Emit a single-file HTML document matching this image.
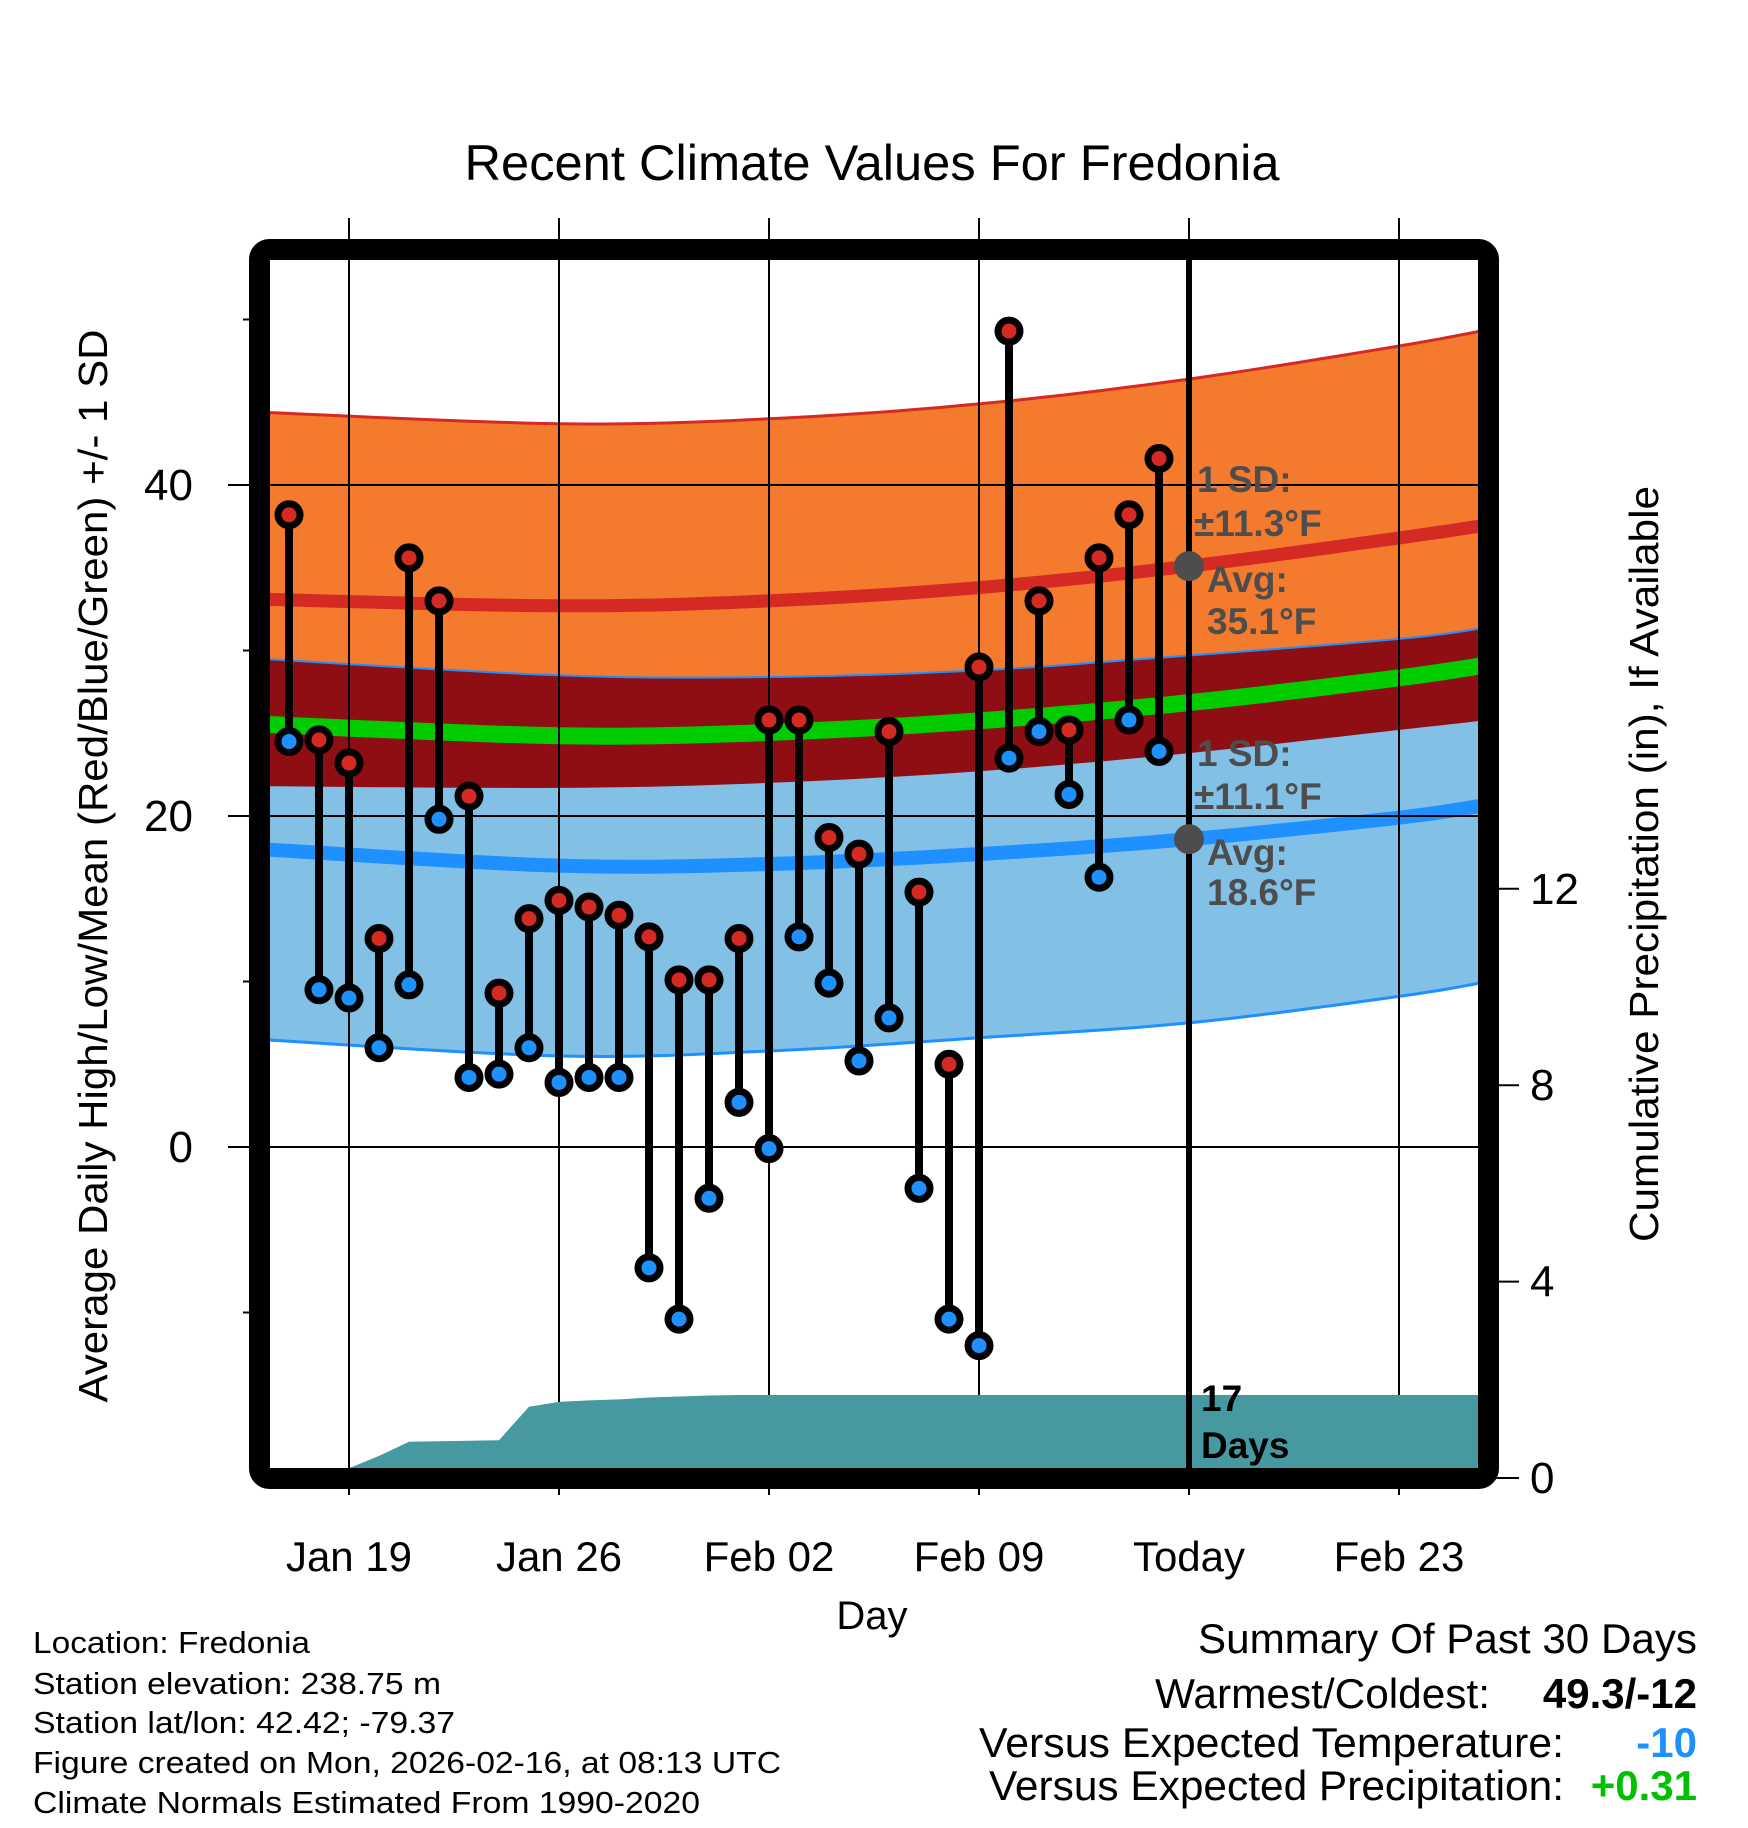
<!DOCTYPE html>
<html><head><meta charset="utf-8"><style>
html,body{margin:0;padding:0;background:#fff;}
svg{display:block;font-family:"Liberation Sans",sans-serif;}
</style></head><body>
<svg id="chart" width="1748" height="1828" viewBox="0 0 1748 1828" xmlns="http://www.w3.org/2000/svg">
<defs><clipPath id="plotclip"><rect x="270" y="260" width="1208" height="1208"/></clipPath></defs>
<text x="872" y="180" font-size="50" text-anchor="middle" textLength="815" lengthAdjust="spacingAndGlyphs">Recent Climate Values For Fredonia</text>
<g id="bands" clip-path="url(#plotclip)"></g>
<g id="grid"></g>
<g id="precip" clip-path="url(#plotclip)"></g>
<g id="marks"></g>
<g id="annot"></g>
<rect x="259.5" y="249.5" width="1229" height="1229" rx="10" fill="none" stroke="#000" stroke-width="21"/>
<g id="axes"></g>
<text transform="translate(107,866) rotate(-90)" font-size="41" text-anchor="middle" textLength="1073" lengthAdjust="spacingAndGlyphs">Average Daily High/Low/Mean (Red/Blue/Green) +/- 1 SD</text>
<text transform="translate(1658,864) rotate(-90)" font-size="41" text-anchor="middle" textLength="756" lengthAdjust="spacingAndGlyphs">Cumulative Precipitation (in), If Available</text>
<text x="872" y="1629" font-size="40" text-anchor="middle">Day</text>
<g font-size="31">
<text x="33" y="1653" textLength="277" lengthAdjust="spacingAndGlyphs">Location: Fredonia</text>
<text x="33" y="1694" textLength="408" lengthAdjust="spacingAndGlyphs">Station elevation: 238.75 m</text>
<text x="33" y="1733" textLength="422" lengthAdjust="spacingAndGlyphs">Station lat/lon: 42.42; -79.37</text>
<text x="33" y="1773" textLength="748" lengthAdjust="spacingAndGlyphs">Figure created on Mon, 2026-02-16, at 08:13 UTC</text>
<text x="33" y="1813" textLength="667" lengthAdjust="spacingAndGlyphs">Climate Normals Estimated From 1990-2020</text>
</g>
<g font-size="42">
<text x="1198" y="1653" textLength="499" lengthAdjust="spacingAndGlyphs">Summary Of Past 30 Days</text>
<text x="1155" y="1708" textLength="335" lengthAdjust="spacingAndGlyphs">Warmest/Coldest:</text>
<text x="1697" y="1708" text-anchor="end" font-weight="bold">49.3/-12</text>
<text x="979" y="1757" textLength="585" lengthAdjust="spacingAndGlyphs">Versus Expected Temperature:</text>
<text x="1697" y="1757" text-anchor="end" font-weight="bold" fill="#1e90ff">-10</text>
<text x="989" y="1800" textLength="575" lengthAdjust="spacingAndGlyphs">Versus Expected Precipitation:</text>
<text x="1697" y="1800" text-anchor="end" font-weight="bold" fill="#00c000">+0.31</text>
</g>
</svg>
<script>
// day index: 0 = Jan 19
const dayIdx = [-2,-1,0,1,2,3,4,5,6,7,8,9,10,11,12,13,14,15,16,17,18,19,20,21,22,23,24,25,26,27];
const highs = [38.2,24.6,23.2,12.6,35.6,33.0,21.2,9.3,13.8,14.9,14.5,14.0,12.7,10.1,10.1,12.6,25.8,25.8,18.7,17.7,25.1,15.4,5.0,29.0,49.3,33.0,25.2,35.6,38.2,41.6];
const lows = [24.5,9.5,9.0,6.0,9.8,19.8,4.2,4.4,6.0,3.9,4.2,4.2,-7.3,-10.4,-3.1,2.7,-0.1,12.7,9.9,5.2,7.8,-2.5,-10.4,-12.0,23.5,25.1,21.3,16.3,25.8,23.9];
const precipDays = [-2,-1,0,1,2,3,4,5,6,7,8,9,10,11,12,13,39];
const precipCum = [0,0,0.2,0.45,0.74,0.75,0.76,0.77,1.45,1.55,1.58,1.6,1.64,1.66,1.68,1.69,1.69];
const normDays = [-3,7,14,21,28,35,38];
const hiMean = [33.1,32.7,33.0,33.8,35.1,36.8,37.6];
const hiSD = [11.3,11.0,11.0,11.1,11.3,11.6,11.8];
const loMean = [18.0,17.0,17.1,17.7,18.6,19.9,20.7];
const loSD = [11.5,11.5,11.3,11.1,11.1,10.8,10.7];
const xTickDays = [0,7,14,21,28,35];
const xTickLabels = ["Jan 19","Jan 26","Feb 02","Feb 09","Today","Feb 23"];
const yTicks = [-10,0,10,20,30,40,50];
const yLabels = [0,20,40];
const y2Ticks = [0,4,8,12];

const NS="http://www.w3.org/2000/svg";
const X = d => 349 + 30*d;
const Y = v => 1147 - 16.55*v;
const Y2 = p => 1478 - 49.1*p;
function mk(tag, attrs, parent){const e=document.createElementNS(NS,tag);for(const k in attrs)e.setAttribute(k,attrs[k]);parent.appendChild(e);return e;}
const bands=document.getElementById('bands'),grid=document.getElementById('grid'),precip=document.getElementById('precip'),marks=document.getElementById('marks'),annot=document.getElementById('annot'),axes=document.getElementById('axes');

const hiTop=hiMean.map((m,i)=>m+hiSD[i]), hiBot=hiMean.map((m,i)=>m-hiSD[i]);
const loTop=loMean.map((m,i)=>m+loSD[i]), loBot=loMean.map((m,i)=>m-loSD[i]);
const midMean=hiMean.map((m,i)=>(m+loMean[i])/2);
// smooth curve through nodes (Catmull-Rom sampled)
function curve(arr){const P=normDays.map((d,i)=>[X(d),Y(arr[i])]);const out=[];
for(let i=0;i<P.length-1;i++){const p0=P[Math.max(0,i-1)],p1=P[i],p2=P[i+1],p3=P[Math.min(P.length-1,i+2)];
for(let s=0;s<10;s++){const t=s/10,t2=t*t,t3=t2*t;
const f=(a,b,c,d)=>0.5*((2*b)+(-a+c)*t+(2*a-5*b+4*c-d)*t2+(-a+3*b-3*c+d)*t3);
out.push(f(p0[0],p1[0],p2[0],p3[0]).toFixed(1)+','+f(p0[1],p1[1],p2[1],p3[1]).toFixed(1));}}
const L=P[P.length-1];out.push(L[0].toFixed(1)+','+L[1].toFixed(1));return out;}
function band(a,b,fill,name){const p=curve(a).concat(curve(b).reverse()).join(' ');const e=mk('polygon',{points:p,fill:fill},bands);

}
function line(a,color,w,name){const e=mk('polyline',{points:curve(a).join(' '),fill:'none',stroke:color,'stroke-width':w},bands);

}
band(hiTop,hiBot,'#f47a2e','high-sd-band');
band(loTop,loBot,'#82c0e6','low-sd-band');
band(loTop,hiBot,'#8e0e14','overlap-band');
line(hiTop,'#d42a23',3,'high-sd-top-line');
line(loTop,'#1e90ff',2,'low-sd-top-line');
line(loBot,'#1e90ff',3,'low-sd-bottom-line');
line(hiMean,'#d42a23',13,'high-mean-line');
line(loMean,'#1e90ff',14,'low-mean-line');
line(midMean,'#00cc00',17,'mean-line');

// grid
xTickDays.forEach((d,i)=>{const e=mk('line',{x1:X(d),x2:X(d),y1:218,y2:1495,stroke:'#000','stroke-width':2},grid);


const t=mk('text',{x:X(d),y:1571,'font-size':42,'text-anchor':'middle'},axes);t.textContent=xTickLabels[i];

});
yTicks.forEach(v=>{const major=yLabels.includes(v);
const e=mk('line',{x1:major?228:243,x2:255,y1:Y(v),y2:Y(v),stroke:'#000','stroke-width':2},axes);


if(major){const g=mk('line',{x1:270,x2:1478,y1:Y(v),y2:Y(v),stroke:'#000','stroke-width':2},grid);


const t=mk('text',{x:193,y:Y(v)+15,'font-size':44,'text-anchor':'end'},axes);t.textContent=v;

}});
y2Ticks.forEach(p=>{const e=mk('line',{x1:1495,x2:1519,y1:Y2(p),y2:Y2(p),stroke:'#000','stroke-width':2},axes);


const t=mk('text',{x:1530,y:Y2(p)+15,'font-size':44},axes);t.textContent=p;

});

// precip
{const p=precipDays.map((d,i)=>X(d)+','+Y2(precipCum[i]).toFixed(1));p.push(X(39)+','+1480,X(-2)+','+1480);
const e=mk('polygon',{points:p.join(' '),fill:'#4699a0'},precip);

}

// today line
{const e=mk('line',{x1:X(28),x2:X(28),y1:260,y2:1468,stroke:'#000','stroke-width':6},annot);

}
[[hiMean,'high-avg-dot'],[loMean,'low-avg-dot']].forEach(([arr,n])=>{const e=mk('circle',{cx:X(28),cy:Y(arr[4]),r:15,fill:'#4d4d4d'},annot);

});
const txt=[["1 SD:",1197,492],["±11.3°F",1194,536],["Avg:",1207,592],["35.1°F",1207,634],["1 SD:",1197,766],["±11.1°F",1194,809],["Avg:",1207,865],["18.6°F",1207,905]];
txt.forEach(([s,x,y])=>{const t=mk('text',{x:x,y:y,'font-size':37,'font-weight':'bold',fill:'#4d4d4d'},annot);t.textContent=s;

});
[["17",1201,1411],["Days",1201,1458]].forEach(([s,x,y])=>{const t=mk('text',{x:x,y:y,'font-size':37,'font-weight':'bold',fill:'#000'},annot);t.textContent=s;

});

// daily stems & markers
dayIdx.forEach((d,i)=>{
const s=mk('line',{x1:X(d),x2:X(d),y1:Y(highs[i]),y2:Y(lows[i]),stroke:'#000','stroke-width':8},marks);


const h=mk('circle',{cx:X(d),cy:Y(highs[i]),r:11,fill:'#d42a23',stroke:'#000','stroke-width':7},marks);


const l=mk('circle',{cx:X(d),cy:Y(lows[i]),r:11,fill:'#1e90ff',stroke:'#000','stroke-width':7},marks);


});
</script>
</body></html>
